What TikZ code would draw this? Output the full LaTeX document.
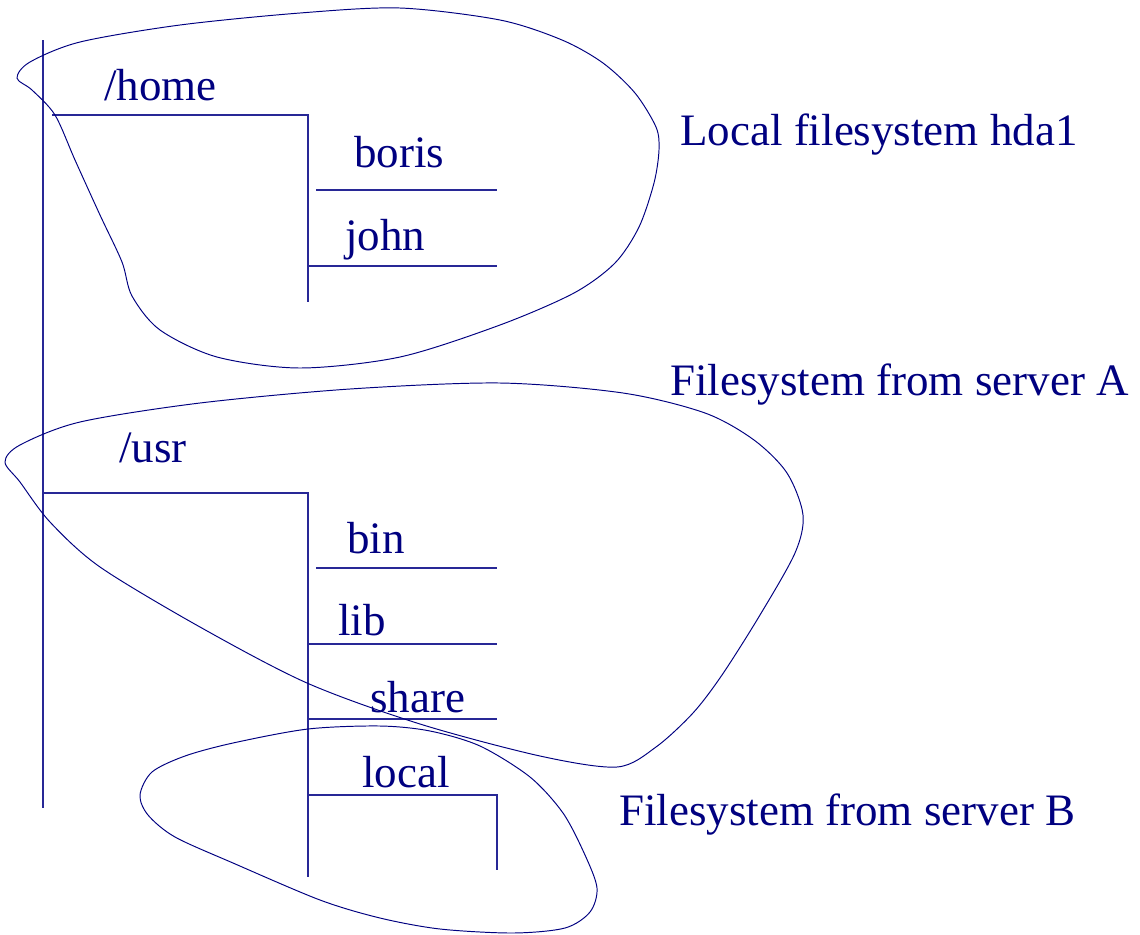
\documentclass[tikz,border=0pt]{standalone}
\usepackage{fontspec}
\setmainfont{Liberation Serif}
\definecolor{navy}{RGB}{0,0,128}
\definecolor{treeblue}{RGB}{40,40,150}
\begin{document}
\begin{tikzpicture}[x=0.02cm,y=-0.02cm,
  tree/.style={draw=treeblue, line width=0.9pt},
  blob/.style={draw=navy, line width=0.55pt},
  lbl/.style={anchor=base west, inner sep=0pt, text=navy,
              font=\fontsize{25.6}{30}\selectfont}]
\useasboundingbox (0,0) rectangle (1140,934);

% --- directory tree ---
\coordinate (rootT) at (43,40);
\coordinate (rootB) at (43,808);
\draw[tree] (rootT) -- (rootB);

\coordinate (homeL) at (52,115);
\coordinate (homeR) at (308,115);
\coordinate (homeB) at (308,302);
\draw[tree] (homeL) -- (homeR) -- (homeB);
\coordinate (borisL) at (316,190); \coordinate (borisR) at (497,190);
\draw[tree] (borisL) -- (borisR);
\coordinate (johnL) at (308,266); \coordinate (johnR) at (497,266);
\draw[tree] (johnL) -- (johnR);

\coordinate (usrL) at (43,493);
\coordinate (usrR) at (308,493);
\coordinate (usrB) at (308,877);
\draw[tree] (usrL) -- (usrR) -- (usrB);
\coordinate (binL) at (316,568); \coordinate (binR) at (497,568);
\draw[tree] (binL) -- (binR);
\coordinate (libL) at (308,644); \coordinate (libR) at (497,644);
\draw[tree] (libL) -- (libR);
\coordinate (shareL) at (308,719); \coordinate (shareR) at (497,719);
\draw[tree] (shareL) -- (shareR);
\coordinate (localL) at (308,795); \coordinate (localR) at (497,795);
\coordinate (localB) at (497,870);
\draw[tree] (localL) -- (localR) -- (localB);

% --- directory names ---
\node[lbl] (home)  at (104,100) {/home};
\node[lbl] (boris) at (354,167) {boris};
\node[lbl] (john)  at (345,250) {john};
\node[lbl] (usr)   at (119,462) {/usr};
\node[lbl] (bin)   at (347,553) {bin};
\node[lbl] (lib)   at (338,635) {lib};
\node[lbl] (share) at (370,712) {share};
\node[lbl] (local) at (362,787) {local};

% --- filesystem outlines ---
\draw[blob] plot[smooth cycle, tension=0.5] coordinates {
  (17,78) (30,62) (80,42) (180,25) (300,13) (400,8) (500,20) (562,40)
  (603,63) (635,93) (656,127) (659,150) (654,183) (639,227) (615,263)
  (574,293) (500,325) (400,357) (300,368) (217,357) (160,330) (132,296)
  (122,262) (100,215) (75,160) (55,115) (32,90)};

\draw[blob] plot[smooth cycle, tension=0.5] coordinates {
  (5,462) (20,445) (80,422) (200,403) (350,389) (500,383) (623,393)
  (705,413) (754,440) (787,473) (803,515) (795,553) (760,615) (722,675)
  (693,713) (656,747) (617,767) (540,756) (420,724) (307,683) (200,627)
  (100,567) (50,522) (20,482)};

\draw[blob] plot[smooth cycle, tension=0.5] coordinates {
  (140,795) (152,772) (185,756) (233,743) (308,729) (380,726) (430,731)
  (480,746) (530,777) (563,813) (585,855) (597,888) (590,912) (565,928)
  (513,933) (440,929) (380,918) (320,900) (233,863) (175,837) (148,815)};

% --- filesystem captions ---
\node[lbl] (fsLocal) at (680,145) {Local filesystem hda1};
\node[lbl] (fsA)     at (670,395) {Filesystem from server A};
\node[lbl] (fsB)     at (619,825) {Filesystem from server B};
\end{tikzpicture}
\end{document}
